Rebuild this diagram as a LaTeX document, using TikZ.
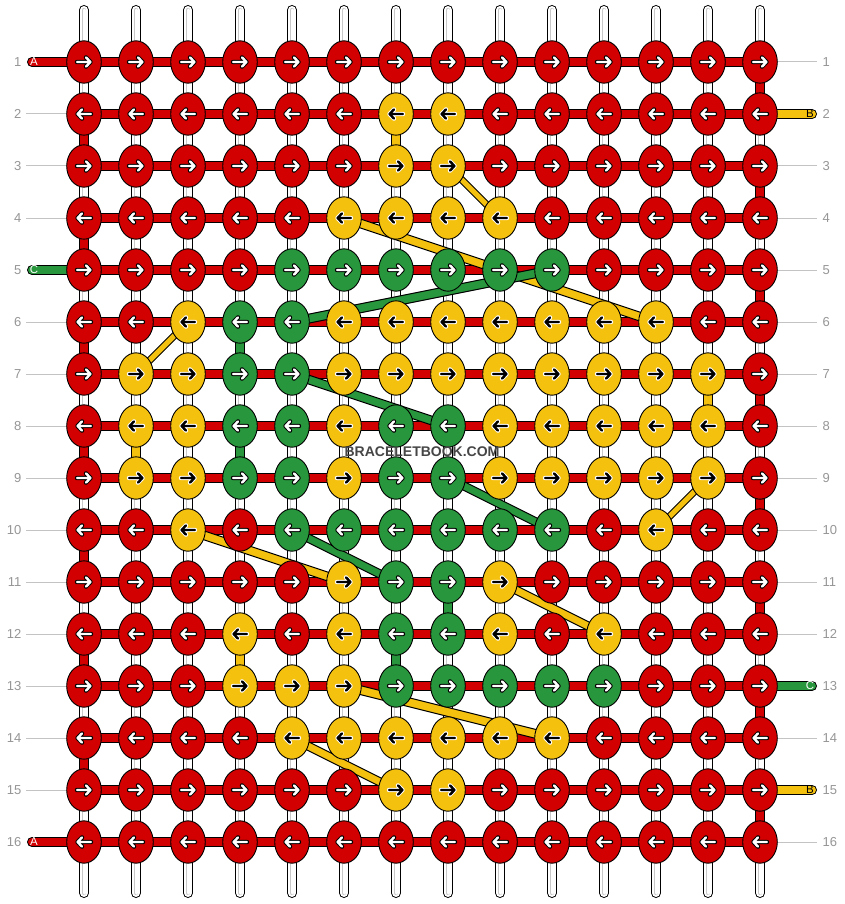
\documentclass[tikz,border=0pt]{standalone}
\usepackage{fontspec}
\setmainfont{Liberation Sans}
\usetikzlibrary{shapes.geometric}
\definecolor{kR}{RGB}{210,0,0}
\definecolor{kY}{RGB}{245,193,15}
\definecolor{kG}{RGB}{40,150,60}
\definecolor{numgray}{RGB}{150,150,150}
\definecolor{rulegray}{RGB}{195,195,195}
\definecolor{innergray}{RGB}{200,200,200}
\definecolor{wmgray}{RGB}{70,70,70}
\pgfdeclarelayer{lwarp}
\pgfdeclarelayer{lvert}
\pgfdeclarelayer{lbar}
\pgfdeclarelayer{ldiag}
\pgfsetlayers{lwarp,lvert,lbar,ldiag,main}
\tikzset{
 knot/.style={ellipse, draw=black, line width=0.9pt, minimum width=34.6pt, minimum height=42.4pt, inner sep=0pt},
 strand/.style={draw=black, line width=1pt, double distance=8pt},
 arrowbg/.style={line width=4.4pt, line cap=round, line join=round},
 arrowfg/.style={line width=2.4pt, line cap=round, line join=round},
 abgR/.style={draw=black}, afgR/.style={draw=white},
 abgG/.style={draw=black}, afgG/.style={draw=white},
 abgY/.style={draw=white}, afgY/.style={draw=black},
 numlbl/.style={text=numgray, font=\fontsize{13}{13}\selectfont, inner sep=0pt},
 pilltxt/.style={font=\fontsize{11.5}{11.5}\selectfont, inner sep=0pt},
 rowrule/.style={draw=rulegray, line width=1pt},
 diagstrand/.style={draw=black, line width=1pt},
 wm/.style={font=\fontsize{14}{14}\selectfont\bfseries, inner sep=0pt, text=wmgray},
}
\begin{document}
\begin{tikzpicture}[x=1pt,y=-1pt]
\useasboundingbox (0,0) rectangle (844,904);
% knots
\foreach \pat [count=\ri] in {
{R,R,R,R,R,R,R,R,R,R,R,R,R,R},
{R,R,R,R,R,R,Y,Y,R,R,R,R,R,R},
{R,R,R,R,R,R,Y,Y,R,R,R,R,R,R},
{R,R,R,R,R,Y,Y,Y,Y,R,R,R,R,R},
{R,R,R,R,G,G,G,G,G,G,R,R,R,R},
{R,R,Y,G,G,Y,Y,Y,Y,Y,Y,Y,R,R},
{R,Y,Y,G,G,Y,Y,Y,Y,Y,Y,Y,Y,R},
{R,Y,Y,G,G,Y,G,G,Y,Y,Y,Y,Y,R},
{R,Y,Y,G,G,Y,G,G,Y,Y,Y,Y,Y,R},
{R,R,Y,R,G,G,G,G,G,G,R,Y,R,R},
{R,R,R,R,R,Y,G,G,Y,R,R,R,R,R},
{R,R,R,Y,R,Y,G,G,Y,R,Y,R,R,R},
{R,R,R,Y,Y,Y,G,G,G,G,G,R,R,R},
{R,R,R,R,Y,Y,Y,Y,Y,Y,R,R,R,R},
{R,R,R,R,R,R,Y,Y,R,R,R,R,R,R},
{R,R,R,R,R,R,R,R,R,R,R,R,R,R}} {
  \ifodd\ri \def\dir{1}\else\def\dir{-1}\fi
  \foreach \col [count=\ci] in \pat {
    \node[knot, fill=k\col] (k\ri-\ci) at ({84+(\ci-1)*52},{62+(\ri-1)*52}) {};
    \begin{scope}[shift={(k\ri-\ci.center)}, xscale=\dir]
      \draw[arrowbg, abg\col] (-7,0) -- (6.5,0) (2,-4.6) -- (6.5,0) -- (2,4.6);
      \draw[arrowfg, afg\col] (-7,0) -- (6.5,0) (2,-4.6) -- (6.5,0) -- (2,4.6);
    \end{scope}
  }
}
% row numbers
\foreach \ri in {1,...,16} {
  \node[numlbl, anchor=east] (nl\ri) at (21.5,{62+(\ri-1)*52}) {\ri};
  \node[numlbl, anchor=west] (nr\ri) at (822.5,{62+(\ri-1)*52}) {\ri};
}
% warps and rules
\begin{pgfonlayer}{lwarp}
\fill[white] (0,0) rectangle (844,904);
\foreach \ci in {1,...,14} {
  \coordinate (wt\ci) at ({84+(\ci-1)*52},10);
  \coordinate (wb\ci) at ({84+(\ci-1)*52},893);
  \draw[strand, double=white, line cap=round] (wt\ci) -- (wb\ci);
  \draw[draw=innergray, line width=0.6pt, double=white, double distance=3pt, line cap=round] (wt\ci) -- (wb\ci);
}
\foreach \ri in {2,3,4,6,7,8,9,10,11,12,13,14,15}
  \draw[rowrule] ([xshift=4.5pt]nl\ri.east) -- (k\ri-1.center);
\foreach \ri in {1,3,4,5,6,7,8,9,10,11,12,14,16}
  \draw[rowrule] (k\ri-14.center) -- ([xshift=-5.5pt]nr\ri.west);
\end{pgfonlayer}
% vertical colored segments
\begin{pgfonlayer}{lvert}
\foreach \ri [evaluate=\ri as \rn using int(\ri+1)] in {1,3,...,15}
  \draw[strand, double=kR] (k\ri-14.center) -- (k\rn-14.center);
\foreach \ri [evaluate=\ri as \rn using int(\ri+1)] in {2,4,...,14}
  \draw[strand, double=kR] (k\ri-1.center) -- (k\rn-1.center);
\foreach \ra/\rb/\ci/\cl in {2/3/7/kY, 6/7/4/kG, 7/8/13/kY, 8/9/2/kY, 8/9/4/kG, 11/12/8/kG, 12/13/4/kY, 12/13/7/kG}
  \draw[strand, double=\cl] (k\ra-\ci.center) -- (k\rb-\ci.center);
\end{pgfonlayer}
% horizontal bars and pills
\begin{pgfonlayer}{lbar}
\foreach \ri in {1,...,16}
  \draw[strand, double=kR] (k\ri-1.center) -- (k\ri-14.center);
\coordinate (pl1) at (32,62);
\coordinate (pl5) at (32,270);
\coordinate (pl16) at (32,842);
\coordinate (pr2) at (812,114);
\coordinate (pr13) at (812,686);
\coordinate (pr15) at (812,790);
\draw[strand, double=kR, line cap=round] (pl1) -- (k1-1.center);
\draw[strand, double=kG, line cap=round] (pl5) -- (k5-1.center);
\draw[strand, double=kR, line cap=round] (pl16) -- (k16-1.center);
\draw[strand, double=kY, line cap=round] (k2-14.center) -- (pr2);
\draw[strand, double=kG, line cap=round] (k13-14.center) -- (pr13);
\draw[strand, double=kY, line cap=round] (k15-14.center) -- (pr15);
\end{pgfonlayer}
% diagonals
\begin{pgfonlayer}{ldiag}
\foreach \ra/\ca/\rb/\cb/\cl in {3/8/4/9/kY, 4/6/6/12/kY, 6/3/7/2/kY, 9/13/10/12/kY, 10/3/11/6/kY, 11/9/12/11/kY, 13/6/14/10/kY, 14/5/15/7/kY, 5/10/6/5/kG, 7/5/8/8/kG, 9/8/10/10/kG, 10/5/11/7/kG}
  \filldraw[diagstrand, fill=\cl] ([yshift=4.5pt]k\ra-\ca.center) -- ([yshift=4.5pt]k\rb-\cb.center) -- ([yshift=-4.5pt]k\rb-\cb.center) -- ([yshift=-4.5pt]k\ra-\ca.center) -- cycle;
\end{pgfonlayer}
% pill letters
\node[pilltxt, text=white] (tA1) at (34,62) {A};
\node[pilltxt, text=white] (tC5) at (34,270) {C};
\node[pilltxt, text=white] (tA16) at (34,842) {A};
\node[pilltxt, text=black] (tB2) at (810,114) {B};
\node[pilltxt, text=white] (tC13) at (810,686) {C};
\node[pilltxt, text=black] (tB15) at (810,790) {B};
% watermark
\node[wm] (wmark) at (422,452) {BRACELETBOOK.COM};
\end{tikzpicture}
\end{document}
